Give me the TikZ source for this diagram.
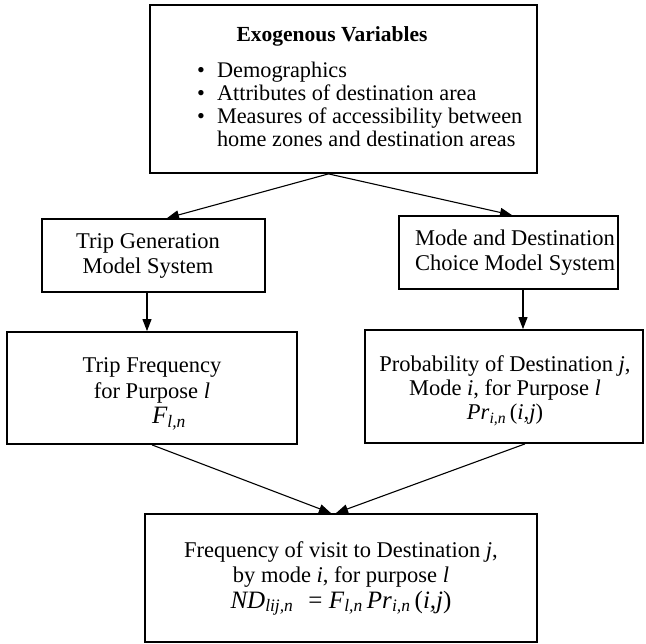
\documentclass[tikz,border=0pt]{standalone}
\usepackage{fontspec}
\setmainfont{Liberation Serif}
\usetikzlibrary{arrows.meta,calc}
\newcommand{\bigf}{\fontsize{25}{25.5}\selectfont}
\begin{document}
\begin{tikzpicture}[x=1pt,y=-1pt,
  box/.style={draw, line width=1.8pt, inner sep=0pt, rectangle},
  txt/.style={font=\fontsize{22.5}{25.5}\selectfont, align=center, inner sep=0pt, anchor=base},
  arr/.style={line width=1.1pt, -{Triangle[length=12pt,width=9pt]}}]
\useasboundingbox (0,0) rectangle (646,644);
\fill[white] (0,0) rectangle (646,644);
% boxes
\node[box, minimum width=387pt, minimum height=168pt] (top) at (343.5,89) {};
\node[box, minimum width=223pt, minimum height=73pt] (tg) at (153.5,255.5) {};
\node[box, minimum width=219pt, minimum height=73pt] (md) at (508.5,252.5) {};
\node[box, minimum width=290pt, minimum height=112pt] (tf) at (152,388) {};
\node[box, minimum width=278pt, minimum height=113pt] (pr) at (504,386.5) {};
\node[box, minimum width=392pt, minimum height=128pt] (bot) at (341,578) {};
% texts
\node[txt, font=\fontsize{21.5}{25}\selectfont] (toptitle) at (332,42) {\textbf{Exogenous Variables}};
\node[inner sep=0pt, anchor=base west, font=\fontsize{22.3}{23}\selectfont] (toplist) at (197,78)
  {\begin{tabular}[t]{@{}l@{\hspace{12pt}}l@{}}
   \textbullet & Demographics\\
   \textbullet & Attributes of destination area\\
   \textbullet & Measures of accessibility between\\
   & home zones and destination areas
   \end{tabular}};
\node[txt] (tgtext) at (148,274) {Trip Generation\\Model System};
\node[txt] (mdtext) at (515,271) {Mode and Destination\\Choice Model System};
\node[txt] (tftext) at (152,424) {Trip Frequency\\for Purpose \textit{l}\\{\bigf\hspace*{34pt}\textit{F}\textsubscript{\textit{l,n}}}};
\node[txt, font=\fontsize{22.5}{24}\selectfont] (prtext) at (505,420) {Probability of Destination \textit{j},\\Mode \textit{i}, for Purpose \textit{l}\\\textit{Pr}\textsubscript{\textit{i,n}}\,(\textit{i,j})};
\node[txt] (bottext) at (341,608) {Frequency of visit to Destination \textit{j},\\by mode \textit{i}, for purpose \textit{l}\\{\bigf\textit{ND}\textsubscript{\textit{lij,n}}\hspace{0.6em}= \textit{F}\textsubscript{\textit{l,n}}\,\textit{Pr}\textsubscript{\textit{i,n}}\,(\textit{i,j})}};
% connectors
\draw[arr] ($(top.south)+(-15,0)$) -- ($(tg.north)+(13.5,0)$);
\draw[arr] ($(top.south)+(-15,0)$) -- ($(md.north)+(3.5,0)$);
\draw[arr] ($(tg.south)+(-6.5,0)$) -- ($(tf.north)+(-5,0)$);
\draw[arr] ($(md.south)+(14.5,0)$) -- ($(pr.north)+(19,0)$);
\draw[arr] (tf.south) -- ($(bot.north)+(-10,0)$);
\draw[arr] ($(pr.south)+(21,0)$) -- ($(bot.north)+(-5,0)$);
\end{tikzpicture}
\end{document}
